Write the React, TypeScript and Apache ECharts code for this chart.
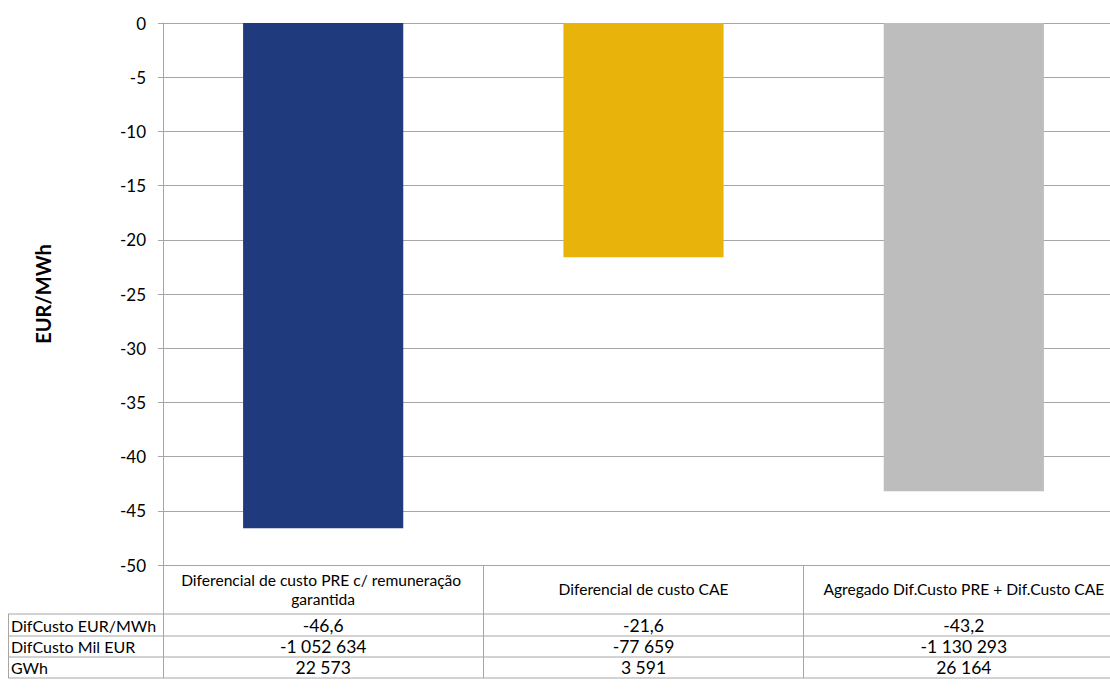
import React, { useEffect, useRef } from "react";
import * as echarts from "echarts";

const categories = [
  "Diferencial de custo PRE c/ remuneração garantida",
  "Diferencial de custo CAE",
  "Agregado Dif.Custo PRE + Dif.Custo CAE",
];
const values = [-46.6, -21.6, -43.2];
const barColors = ["#203A7E", "#E8B30A", "#BDBDBD"];
const rowLabels = ["DifCusto EUR/MWh", "DifCusto Mil EUR", "GWh"];
const rowEurMwh = ["-46,6", "-21,6", "-43,2"];
const rowMilEur = ["-1 052 634", "-77 659", "-1 130 293"];
const rowGwh = ["22 573", "3 591", "26 164"];
const tableRows = [rowEurMwh, rowMilEur, rowGwh];

const FONT = "Lato, 'Open Sans', sans-serif";
const LINE = "#A6A6A6";
const TABLE_FS = 16;

export default function App() {
  const ref = useRef<HTMLDivElement>(null);
  useEffect(() => {
    if (!ref.current) return;
    const chart = echarts.init(ref.current, undefined, { renderer: "svg" });
    const gridLeft = 163;
    const gridTop = 23;
    const gridBottomY = 565;
    const rowTops = [614, 636, 657];
    const rowBottom = 678;
    const rowCenters = [625, 646.5, 667.5];

    const extraAxes = tableRows.map((row, i) => ({
      type: "category",
      gridIndex: 0,
      position: "bottom",
      data: row,
      offset: rowCenters[i] - gridBottomY,
      axisLine: { show: false, onZero: false },
      axisTick: { show: false },
      splitLine: { show: false },
      axisLabel: {
        margin: 0,
        verticalAlign: "middle",
        color: "#000",
        fontFamily: FONT,
        fontSize: 17.5,
        interval: 0,
      },
    }));

    const graphics: any[] = [];
    [...rowTops, rowBottom].forEach((y) => {
      graphics.push({
        type: "line",
        shape: { x1: 8, y1: y, x2: 1110, y2: y },
        style: { stroke: LINE, lineWidth: 1 },
      });
    });
    graphics.push({
      type: "line",
      shape: { x1: 8.5, y1: rowTops[0], x2: 8.5, y2: rowBottom },
      style: { stroke: LINE, lineWidth: 1 },
    });
    rowLabels.forEach((t, i) => {
      graphics.push({
        type: "text",
        x: 11,
        y: rowCenters[i],
        style: {
          text: t,
          fill: "#000",
          font: `${TABLE_FS}px ${FONT}`,
          verticalAlign: "middle",
          align: "left",
        },
      });
    });

    chart.setOption({
      animation: false,
      grid: {
        left: gridLeft,
        top: gridTop,
        right: -14,
        bottom: 693 - gridBottomY,
        containLabel: false,
        outerBoundsMode: "none",
      },
      xAxis: [
        {
          type: "category",
          data: categories,
          axisLine: { show: true, onZero: false, lineStyle: { color: LINE, width: 1 } },
          axisTick: { show: true, length: rowBottom - gridBottomY, lineStyle: { color: LINE } },
          axisLabel: {
            margin: 24,
            verticalAlign: "middle",
            color: "#000",
            fontFamily: FONT,
            fontSize: 15.6,
            interval: 0,
            width: 320,
            overflow: "break",
            lineHeight: 19,
          },
        },
        ...extraAxes,
      ],
      yAxis: {
        type: "value",
        min: -50,
        max: 0,
        interval: 5,
        name: "EUR/MWh",
        nameLocation: "middle",
        nameGap: 110,
        nameRotate: 90,
        nameTextStyle: { fontFamily: FONT, fontSize: 20, fontWeight: "bold", color: "#000" },
        axisLine: { show: true, lineStyle: { color: LINE } },
        axisTick: { show: true, length: 5, lineStyle: { color: LINE } },
        axisLabel: { margin: 17, color: "#000", fontFamily: FONT, fontSize: 17 },
        splitLine: { show: true, lineStyle: { color: LINE, width: 1 } },
      },
      series: [
        {
          type: "bar",
          xAxisIndex: 0,
          barWidth: "50%",
          data: values.map((v, i) => ({ value: v, itemStyle: { color: barColors[i] } })),
        },
      ],
      graphic: graphics,
    });
    return () => chart.dispose();
  }, []);
  return (
    <div
      ref={ref}
      style={{ position: "fixed", left: 0, top: 0, width: 1110, height: 693, background: "#fff" }}
    />
  );
}
